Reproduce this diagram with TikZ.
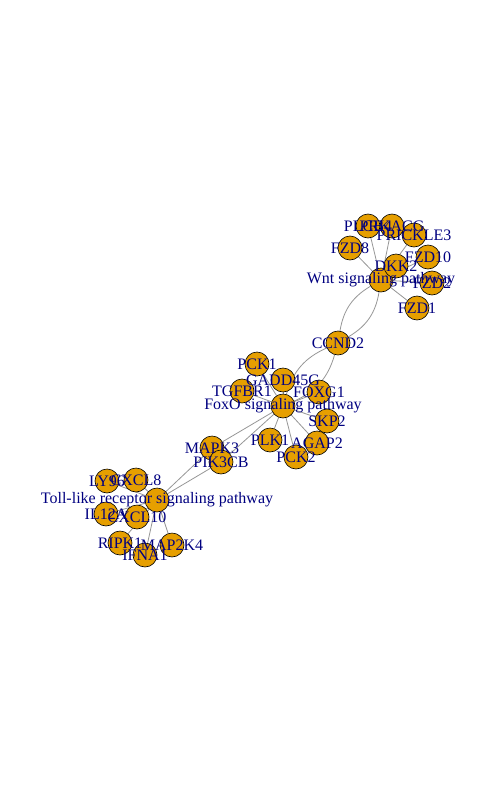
\documentclass[tikz,border=0pt]{standalone}
\usepackage{fontspec}
\setmainfont{Liberation Serif}
\usetikzlibrary{backgrounds}
\definecolor{vorange}{RGB}{230,159,0}
\definecolor{vlabel}{RGB}{0,0,128}
\definecolor{egray}{RGB}{150,150,150}

\begin{document}
\begin{tikzpicture}[x=1pt,y=-1pt]
	\tikzstyle{gene}=[circle, draw=black, fill=vorange, minimum size=24pt, inner sep=0pt, line width=0.6pt]
	\tikzstyle{lbl}=[text=vlabel, font=\fontsize{16}{18}\selectfont, inner sep=0pt]
	\tikzstyle{every edge}=[draw=egray, line width=0.8pt]
	\useasboundingbox (0,0) rectangle (500,800);
	
	% Wnt signaling pathway
	\node[gene] (wnt)      at (381,280) {};
	\node[gene] (plcb4)    at (368,226) {};
	\node[gene] (prkacg)   at (392,226) {};
	\node[gene] (prickle3) at (414,235) {};
	\node[gene] (fzd8)     at (350,248) {};
	\node[gene] (dkk2)     at (396,266) {};
	\node[gene] (fzd10)    at (428,257) {};
	\node[gene] (fzd2)     at (432,283) {};
	\node[gene] (fzd1)     at (417,308) {};
	\node[gene] (ccnd2)    at (338,343) {};
	
	% FoxO signaling pathway
	\node[gene] (foxo)     at (283,406) {};
	\node[gene] (pck1)     at (257,364) {};
	\node[gene] (gadd45g)  at (283,380) {};
	\node[gene] (tgfbr1)   at (242,391) {};
	\node[gene] (foxg1)    at (319,392) {};
	\node[gene] (skp2)     at (327,421) {};
	\node[gene] (agap2)    at (317,443) {};
	\node[gene] (plk1)     at (270,440) {};
	\node[gene] (pck2)     at (296,457) {};
	\node[gene] (mapk3)    at (212,448) {};
	\node[gene] (pik3cb)   at (221,462) {};
	
	% Toll-like receptor signaling pathway
	\node[gene] (toll)     at (157,500) {};
	\node[gene] (cxcl8)    at (136,480) {};
	\node[gene] (ly96)     at (107,481) {};
	\node[gene] (il12a)    at (106,514) {};
	\node[gene] (cxcl10)   at (137,517) {};
	\node[gene] (ripk1)    at (120,543) {};
	\node[gene] (ifna1)    at (145,555) {};
	\node[gene] (map2k4)   at (172,545) {};
	
	\begin{scope}[on background layer]
	\path (wnt) edge (plcb4);
	\path (wnt) edge (prkacg);
	\path (wnt) edge (prickle3);
	\path (wnt) edge (fzd8);
	\path (wnt) edge (dkk2);
	\path (wnt) edge (fzd10);
	\path (wnt) edge (fzd2);
	\path (wnt) edge (fzd1);
	\path (ccnd2) edge[bend left=25] (wnt);
	\path (ccnd2) edge[bend right=25] (wnt);
	\path (ccnd2) edge[bend left=25] (foxo);
	\path (ccnd2) edge[bend right=25] (foxo);
	\path (foxo) edge (pck1);
	\path (foxo) edge (gadd45g);
	\path (foxo) edge (tgfbr1);
	\path (foxo) edge (foxg1);
	\path (foxo) edge (skp2);
	\path (foxo) edge (agap2);
	\path (foxo) edge (plk1);
	\path (foxo) edge (pck2);
	\path (foxo) edge (mapk3);
	\path (foxo) edge (pik3cb);
	\path (toll) edge (cxcl8);
	\path (toll) edge (ly96);
	\path (toll) edge (il12a);
	\path (toll) edge (cxcl10);
	\path (toll) edge (ripk1);
	\path (toll) edge (ifna1);
	\path (toll) edge (map2k4);
	\path (toll) edge (mapk3);
	\path (toll) edge (pik3cb);
	\end{scope}
	
	% labels on top of all circles
	\node[lbl] at (wnt) {Wnt signaling pathway};
	\node[lbl] at (plcb4) {PLCB4};
	\node[lbl] at (prkacg) {PRKACG};
	\node[lbl] at (prickle3) {PRICKLE3};
	\node[lbl] at (fzd8) {FZD8};
	\node[lbl] at (dkk2) {DKK2};
	\node[lbl] at (fzd10) {FZD10};
	\node[lbl] at (fzd2) {FZD2};
	\node[lbl] at (fzd1) {FZD1};
	\node[lbl] at (ccnd2) {CCND2};
	\node[lbl] at (foxo) {FoxO signaling pathway};
	\node[lbl] at (pck1) {PCK1};
	\node[lbl] at (gadd45g) {GADD45G};
	\node[lbl] at (tgfbr1) {TGFBR1};
	\node[lbl] at (foxg1) {FOXG1};
	\node[lbl] at (skp2) {SKP2};
	\node[lbl] at (agap2) {AGAP2};
	\node[lbl] at (plk1) {PLK1};
	\node[lbl] at (pck2) {PCK2};
	\node[lbl] at (mapk3) {MAPK3};
	\node[lbl] at (pik3cb) {PIK3CB};
	\node[lbl] at (toll) {Toll-like receptor signaling pathway};
	\node[lbl] at (cxcl8) {CXCL8};
	\node[lbl] at (ly96) {LY96};
	\node[lbl] at (il12a) {IL12A};
	\node[lbl] at (cxcl10) {CXCL10};
	\node[lbl] at (ripk1) {RIPK1};
	\node[lbl] at (ifna1) {IFNA1};
	\node[lbl] at (map2k4) {MAP2K4};
	
\end{tikzpicture}
\end{document}
